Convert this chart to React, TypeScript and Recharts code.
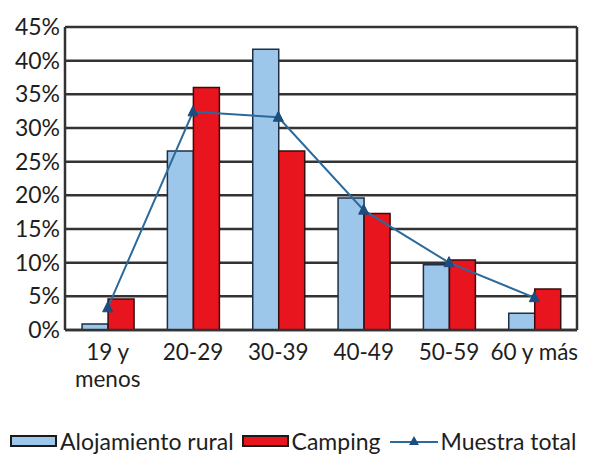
import {
  ComposedChart,
  Bar,
  Line,
  XAxis,
  YAxis,
  CartesianGrid,
} from 'recharts';

const categories = ['19 y\nmenos', '20-29', '30-39', '40-49', '50-59', '60 y más'];
const ruralValues = [0.9, 26.6, 41.7, 19.6, 9.7, 2.5];
const campingValues = [4.6, 36.0, 26.6, 17.3, 10.4, 6.1];
const totalValues = [3.3, 32.4, 31.6, 17.8, 10.0, 4.8];
const yTicks = [0, 5, 10, 15, 20, 25, 30, 35, 40, 45];

const data = categories.map((name, i) => ({
  name,
  rural: ruralValues[i],
  camping: campingValues[i],
  total: totalValues[i],
}));

const FONT = 'Lato, "Open Sans", sans-serif';
const TEXT = '#1e1e1e';
const GRID = '#333';
const RURAL = '#9cc7ea';
const CAMPING = '#e8141e';
const LINE = '#2b6a9a';
const MARKER = '#1b4d7e';

function Triangle(props: any) {
  const { cx, cy } = props;
  if (cx == null || cy == null) return null;
  return (
    <path
      d={`M${cx},${cy - 6} L${cx + 5},${cy + 4} L${cx - 5},${cy + 4} Z`}
      fill={MARKER}
      stroke={MARKER}
    />
  );
}

function CategoryTick(props: any) {
  const { x, y, payload } = props;
  const lines = String(payload.value).split('\n');
  return (
    <g>
      {lines.map((l, i) => (
        <text
          key={i}
          x={x}
          y={y + 22 + i * 27}
          textAnchor="middle"
          fill={TEXT}
          fontFamily={FONT}
          fontSize={22.5}
        >
          {l}
        </text>
      ))}
    </g>
  );
}

function LegendRow() {
  const item = { display: 'flex', alignItems: 'center' } as const;
  const box = (fill: string) => ({
    width: 47,
    height: 12,
    background: fill,
    border: '2px solid #1a1a1a',
    marginRight: 3,
    boxSizing: 'border-box' as const,
  });
  return (
    <div
      style={{
        position: 'absolute',
        left: 10,
        top: 427,
        display: 'flex',
        alignItems: 'center',
        fontFamily: FONT,
        fontSize: 23,
        color: TEXT,
        whiteSpace: 'nowrap',
      }}
    >
      <div style={item}>
        <div style={box(RURAL)} />
        <span>Alojamiento rural</span>
      </div>
      <div style={{ ...item, marginLeft: 8 }}>
        <div style={box(CAMPING)} />
        <span>Camping</span>
      </div>
      <div style={{ ...item, marginLeft: 10 }}>
        <svg width={48} height={14} style={{ marginRight: 2 }}>
          <line x1={0} y1={8} x2={48} y2={8} stroke={LINE} strokeWidth={2} />
          <path d="M24,2 L29,11 L19,11 Z" fill={MARKER} />
        </svg>
        <span>Muestra total</span>
      </div>
    </div>
  );
}

export default function App() {
  return (
    <div style={{ position: 'absolute', left: 0, top: 0, width: 589, height: 459, background: '#fff' }}>
      <ComposedChart
        width={589}
        height={459}
        data={data}
        margin={{ top: 27, right: 12, left: 0, bottom: 129 - 50 }}
        barCategoryGap="20%"
        barGap={0}
      >
        <CartesianGrid
          stroke={GRID}
          strokeWidth={2.5}
          vertical={true}
          verticalCoordinatesGenerator={({ offset }: any) => [offset.left + offset.width]}
        />
        <XAxis
          dataKey="name"
          height={50}
          axisLine={{ stroke: GRID, strokeWidth: 2.5 }}
          tickLine={false}
          interval={0}
          tick={<CategoryTick />}
        />
        <YAxis
          width={65}
          domain={[0, 45]}
          ticks={yTicks}
          tickFormatter={(v: number) => `${v}%`}
          axisLine={{ stroke: GRID, strokeWidth: 2.5 }}
          tickLine={false}
          tickSize={0}
          tickMargin={5}
          tick={{ fill: TEXT, fontFamily: FONT, fontSize: 23 }}
        />
        <Bar dataKey="rural" fill={RURAL} stroke="#1d2f45" strokeWidth={1.5} isAnimationActive={false} />
        <Bar dataKey="camping" fill={CAMPING} stroke="#3a0d0d" strokeWidth={1.5} isAnimationActive={false} />
        <Line
          dataKey="total"
          stroke={LINE}
          strokeWidth={2}
          dot={<Triangle />}
          activeDot={false}
          isAnimationActive={false}
        />
      </ComposedChart>
      <LegendRow />
    </div>
  );
}
